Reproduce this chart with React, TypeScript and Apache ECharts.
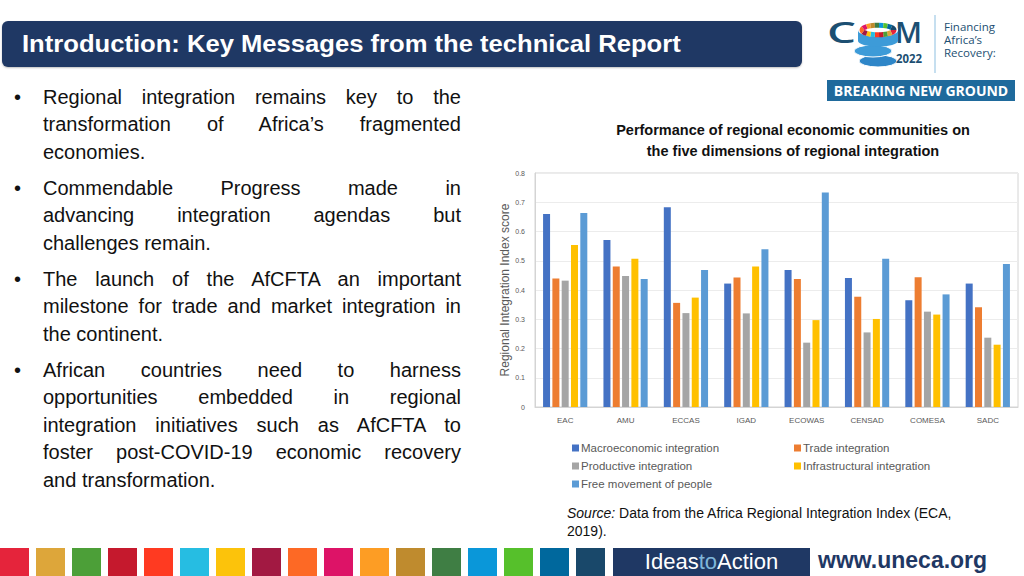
import React, { useEffect, useRef, useLayoutEffect, useState } from "react";
import * as echarts from "echarts";

const categories = ["EAC", "AMU", "ECCAS", "IGAD", "ECOWAS", "CENSAD", "COMESA", "SADC"];
const macroeconomic = [0.66, 0.571, 0.683, 0.422, 0.468, 0.441, 0.365, 0.422];
const trade = [0.439, 0.48, 0.356, 0.443, 0.438, 0.377, 0.444, 0.341];
const productive = [0.432, 0.448, 0.321, 0.32, 0.22, 0.255, 0.326, 0.237];
const infrastructural = [0.554, 0.507, 0.374, 0.48, 0.297, 0.301, 0.316, 0.213];
const freeMovement = [0.663, 0.438, 0.468, 0.539, 0.733, 0.507, 0.385, 0.489];
const seriesNames = [
  "Macroeconomic integration",
  "Trade integration",
  "Productive integration",
  "Infrastructural integration",
  "Free movement of people",
];
const seriesColors = ["#4472C4", "#ED7D31", "#A5A5A5", "#FFC000", "#5B9BD5"];
const yTicks = [0, 0.1, 0.2, 0.3, 0.4, 0.5, 0.6, 0.7, 0.8];

const bullets: { lines: string[] }[] = [
  { lines: ["Regional integration remains key to the", "transformation of Africa’s fragmented", "economies."] },
  { lines: ["Commendable Progress made in", "advancing integration agendas but", "challenges remain."] },
  { lines: ["The launch of the AfCFTA an important", "milestone for trade and market integration in", "the continent."] },
  {
    lines: [
      "African countries need to harness",
      "opportunities embedded in regional",
      "integration initiatives such as AfCFTA to",
      "foster post-COVID-19 economic recovery",
      "and transformation.",
    ],
  },
];

const sdgColors = [
  "#E5243B", "#DDA63A", "#4C9F38", "#C5192D", "#FF3A21", "#26BDE2", "#FCC30B", "#A21942",
  "#FD6925", "#DD1367", "#FD9D24", "#BF8B2E", "#3F7E44", "#0A97D9", "#56C02B", "#00689D", "#19486A",
];

function FitText({ text, width, style }: { text: string; width: number; style: React.CSSProperties }) {
  const ref = useRef<HTMLSpanElement>(null);
  const [scale, setScale] = useState(1);
  useLayoutEffect(() => {
    if (ref.current) {
      const w = ref.current.offsetWidth;
      if (w > 0) setScale(width / w);
    }
  }, [text, width]);
  return (
    <span
      ref={ref}
      style={{ ...style, display: "inline-block", whiteSpace: "nowrap", transform: `scaleX(${scale})`, transformOrigin: "left center" }}
    >
      {text}
    </span>
  );
}

function Logo() {
  const ox = 820;
  const X = (x: number) => x - ox;
  const blue = "#1C4F72";
  return (
    <svg style={{ position: "absolute", left: ox, top: 0 }} width={204} height={110}>
      <text x={X(827)} y={43} fontSize={28} fontWeight={600} textLength={29} lengthAdjust="spacingAndGlyphs" fill={blue} fontFamily="'Open Sans', Lato, sans-serif">
        C
      </text>
      <text x={X(895)} y={43} fontSize={28} fontWeight={600} textLength={27} lengthAdjust="spacingAndGlyphs" fill={blue} fontFamily="'Open Sans', Lato, sans-serif">
        M
      </text>
      <ellipse cx={X(878)} cy={61} rx={19} ry={6} fill="#2E86C8" stroke="#ffffff" strokeWidth={1} />
      <ellipse cx={X(873)} cy={51} rx={19} ry={6} fill="#3D9BD8" stroke="#ffffff" strokeWidth={1} />
      <rect x={X(858)} y={30} width={40} height={11} fill="#3D9BD8" />
      <ellipse cx={X(878)} cy={41} rx={20} ry={5.5} fill="#3D9BD8" />
      <ellipse cx={X(878)} cy={30} rx={20} ry={7} fill="#ffffff" />
      {sdgColors.map((c, i) => (
        <ellipse
          key={i}
          cx={X(878)}
          cy={30}
          rx={16}
          ry={4.8}
          fill="none"
          stroke={c}
          strokeWidth={5}
          pathLength={17}
          strokeDasharray="1 16"
          strokeDashoffset={-i}
        />
      ))}
      <text x={X(896)} y={63} fontSize={12} fontWeight="bold" textLength={26} lengthAdjust="spacingAndGlyphs" fill={blue} fontFamily="'Open Sans', Lato, sans-serif">
        2022
      </text>
      <line x1={X(935)} y1={15} x2={X(935)} y2={73} stroke="#8DBFE0" strokeWidth={1} />
      <text x={X(944)} y={31} fontSize={11.5} fill={blue} fontFamily="'Open Sans', sans-serif">
        Financing
      </text>
      <text x={X(944)} y={44} fontSize={11.5} fill={blue} fontFamily="'Open Sans', sans-serif">
        Africa’s
      </text>
      <text x={X(944)} y={57} fontSize={11.5} fill={blue} fontFamily="'Open Sans', sans-serif">
        Recovery:
      </text>
      <rect x={X(827)} y={80} width={188} height={21} fill="#1F6A9C" />
      <text
        x={X(921)}
        y={95.5}
        fontSize={14}
        fontWeight="bold"
        textAnchor="middle"
        fill="#ffffff"
        fontFamily="'Open Sans', sans-serif"
      >
        BREAKING NEW GROUND
      </text>
    </svg>
  );
}

export default function App() {
  const chartRef = useRef<HTMLDivElement>(null);

  useEffect(() => {
    document.body.style.margin = "0";
    if (!chartRef.current) return;
    const chart = echarts.init(chartRef.current, undefined, { renderer: "svg" });
    const data = [macroeconomic, trade, productive, infrastructural, freeMovement];
    const font = "Liberation Sans, Arial, sans-serif";
    const legendText = { fontSize: 11.5, color: "#595959", fontFamily: font, padding: [0, 0, 0, -3] };
    chart.setOption({
      animation: false,
      title: {
        text: "Performance of regional economic communities on\nthe five dimensions of regional integration",
        left: 788 - 480,
        top: 114,
        textAlign: "center",
        textStyle: {
          fontSize: 14.5,
          fontWeight: "bold",
          color: "#111",
          lineHeight: 21,
          fontFamily: font,
        },
      },
      grid: {
        left: 535 - 480,
        right: 6,
        top: 173,
        bottom: 576 - 407,
        show: true,
        borderColor: "#d4d4d4",
        borderWidth: 1,
      },
      legend: [
        {
          data: [seriesNames[0], seriesNames[2], seriesNames[4]],
          orient: "vertical",
          left: 567 - 480,
          top: 437,
          itemWidth: 7,
          itemHeight: 7,
          itemGap: 6,
          icon: "rect",
          textStyle: legendText,
        },
        {
          data: [seriesNames[1], seriesNames[3]],
          orient: "vertical",
          left: 789 - 480,
          top: 437,
          itemWidth: 7,
          itemHeight: 7,
          itemGap: 6,
          icon: "rect",
          textStyle: legendText,
        },
      ],
      xAxis: {
        type: "category",
        data: categories,
        axisLine: { lineStyle: { color: "#d4d4d4" } },
        axisTick: { show: false },
        axisLabel: { fontSize: 8, color: "#595959", margin: 9, fontFamily: font },
      },
      yAxis: {
        type: "value",
        min: yTicks[0],
        max: yTicks[yTicks.length - 1],
        interval: 0.1,
        name: "Regional Integration Index score",
        nameLocation: "middle",
        nameGap: 24,
        nameMoveOverlap: false,
        nameTextStyle: { fontSize: 12, color: "#595959", fontFamily: font },
        axisLine: { show: true, lineStyle: { color: "#d4d4d4" } },
        axisLabel: {
          fontSize: 7,
          color: "#595959",
          margin: 10,
          fontFamily: font,
          formatter: (v: number) => String(Math.round(v * 10) / 10),
        },
        splitLine: { lineStyle: { color: "#ececec" } },
      },
      series: data.map((d, i) => ({
        name: seriesNames[i],
        type: "bar",
        data: d,
        barWidth: 7,
        barGap: "33%",
        itemStyle: { color: seriesColors[i] },
      })),
      graphic: [
        {
          type: "text",
          left: 567 - 480,
          top: 504,
          style: {
            text: "{i|Source:} Data from the Africa Regional Integration Index (ECA,\n2019).",
            fontSize: 14,
            lineHeight: 18,
            fill: "#111",
            fontFamily: font,
            rich: {
              i: { fontStyle: "italic", fontSize: 14, fontFamily: font, fill: "#111" },
            },
          },
        },
      ],
    });
    return () => chart.dispose();
  }, []);

  const lineH = 27.4;
  let y = 84;
  const lineEls: React.ReactNode[] = [];
  bullets.forEach((b, bi) => {
    b.lines.forEach((ln, li) => {
      const last = li === b.lines.length - 1;
      lineEls.push(
        <div
          key={`${bi}-${li}`}
          style={{
            position: "absolute",
            left: 43,
            top: y,
            width: 418,
            height: lineH,
            lineHeight: `${lineH}px`,
            fontSize: 20,
            textAlign: last ? "left" : "justify",
            textAlignLast: last ? "left" : "justify",
            whiteSpace: "nowrap",
            color: "#111111",
          }}
        >
          {ln}
        </div>
      );
      if (li === 0) {
        lineEls.push(
          <div
            key={`b-${bi}`}
            style={{ position: "absolute", left: 14, top: y, lineHeight: `${lineH}px`, fontSize: 20, color: "#111111" }}
          >
            •
          </div>
        );
      }
      y += lineH;
    });
    y += 8.8;
  });

  return (
    <div
      style={{
        position: "relative",
        width: 1024,
        height: 576,
        overflow: "hidden",
        background: "#ffffff",
        fontFamily: "'Liberation Sans', Arial, sans-serif",
      }}
    >
      {/* Header */}
      <div
        style={{
          position: "absolute",
          left: 2,
          top: 21,
          width: 800,
          height: 46,
          background: "#1F3864",
          borderRadius: 6,
          boxShadow: "0 1px 2px rgba(0,0,0,0.25)",
        }}
      />
      <div style={{ position: "absolute", left: 22, top: 28, height: 32, lineHeight: "32px" }}>
        <FitText
          text="Introduction: Key Messages from the technical Report"
          width={659}
          style={{ fontSize: 23, fontWeight: "bold", color: "#ffffff", fontFamily: "'Liberation Sans Narrow', 'Liberation Sans', Arial, sans-serif" }}
        />
      </div>

      <Logo />

      {/* Bullets */}
      {lineEls}

      {/* Chart */}
      <div ref={chartRef} style={{ position: "absolute", left: 480, top: 0, width: 544, height: 576 }} />

      {/* Footer */}
      {sdgColors.map((c, i) => (
        <div key={c + i} style={{ position: "absolute", left: i * 36, top: 548, width: 29, height: 28, background: c }} />
      ))}
      <div
        style={{
          position: "absolute",
          left: 613,
          top: 548,
          width: 197,
          height: 28,
          background: "#1F3864",
          color: "#ffffff",
          fontSize: 22,
          lineHeight: "28px",
          textAlign: "center",
          fontFamily: "'Liberation Sans', Arial, sans-serif",
          fontWeight: 300,
        }}
      >
        Ideas<span style={{ color: "#7FB6DA" }}>to</span>Action
      </div>
      <div
        style={{
          position: "absolute",
          left: 818,
          top: 545,
          fontSize: 23,
          lineHeight: "30px",
          fontWeight: "bold",
          color: "#1F3864",
          fontFamily: "'Liberation Sans Narrow', 'Liberation Sans', Arial, sans-serif",
        }}
      >
        www.uneca.org
      </div>
    </div>
  );
}
